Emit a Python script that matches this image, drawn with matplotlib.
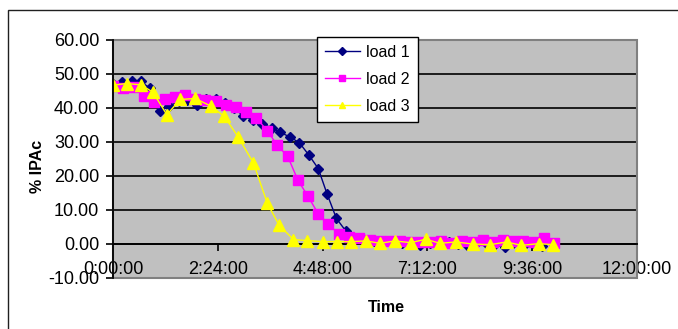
import matplotlib
matplotlib.use("Agg")
import matplotlib.pyplot as plt
from matplotlib.patches import Rectangle
from matplotlib.ticker import FuncFormatter, MultipleLocator

plt.rcParams['font.family'] = ['Liberation Sans', 'DejaVu Sans']

# sample times in minutes from start, % IPAc per load
t_load1 = [0, 13, 26, 38, 51, 64, 77, 90, 102, 115, 128, 141, 154, 166, 179, 192,
           205, 218, 230, 243, 256, 269, 282, 294, 307, 320, 333, 346, 358, 371,
           384, 397, 410, 422, 435, 448, 461, 474, 486, 499, 512, 525, 538, 550,
           563, 576, 589]
load1 = [47.0, 47.5, 47.8, 47.8, 45.8, 39.1, 40.5, 42.0, 42.3, 41.0, 42.6, 42.6,
         41.5, 40.0, 37.7, 36.5, 35.3, 34.2, 32.8, 31.5, 29.8, 26.2, 22.2, 14.8,
         7.5, 3.8, 1.8, 1.2, 0.8, 0.6, 0.5, 0.3, 0.4, -0.4, 0.3, 0.2, 0.5, 0.1,
         -0.3, 0.4, 0.2, 0.0, -0.8, 0.3, -0.5, 0.2, -0.6]

t_load2 = [0, 14, 28, 42, 56, 71, 85, 99, 113, 127, 141, 155, 169, 183, 197, 212,
           226, 240, 254, 268, 282, 296, 310, 324, 338, 353, 367, 381, 395, 409,
           423, 437, 451, 465, 479, 494, 508, 522, 536, 550, 564, 578, 592, 606]
load2 = [46.4, 46.0, 46.3, 43.5, 41.8, 42.7, 43.3, 43.8, 42.7, 42.3, 42.1, 40.8,
         40.4, 38.7, 37.1, 33.3, 29.0, 25.8, 18.8, 14.0, 8.9, 5.8, 3.0, 2.0, 1.7,
         1.3, 1.0, 0.8, 0.9, 0.6, 0.7, 0.5, 0.9, 0.4, 0.8, 0.6, 1.2, 0.7, 1.1,
         1.0, 0.9, 0.5, 1.7, 0.3]

t_load3 = [0, 19, 39, 55, 74, 92, 113, 135, 153, 172, 193, 212, 228, 248, 267,
           288, 308, 327, 348, 367, 387, 409, 430, 449, 471, 494, 518, 541, 561,
           585, 605]
load3 = [46.7, 47.2, 46.8, 44.6, 38.0, 42.5, 42.8, 40.5, 37.5, 31.5, 23.8, 12.0,
         5.6, 1.3, 1.0, 0.7, 0.7, 0.7, 0.9, 0.2, 0.9, 0.4, 1.4, 0.2, 0.6, 0.0,
         -0.2, 0.6, -0.4, 0.1, -0.2]

fig = plt.figure(figsize=(6.78, 3.29), dpi=100)
fig.patch.set_facecolor('white')

# chart area frame
fig.add_artist(Rectangle((8 / 678, -0.2), 1.2, 1.2 - 10 / 329, transform=fig.transFigure,
                         fill=False, edgecolor='#202020', linewidth=1.0))

ax = fig.add_axes([113 / 678, 1 - 278 / 329, 524 / 678, 238 / 329])
ax.set_facecolor('#C0C0C0')

ax.plot(t_load1, load1, color='#000080', marker='D', markersize=5, linewidth=1.0,
        label='load 1', zorder=3)
ax.plot(t_load2, load2, color='#FF00FF', marker='s', markersize=6.5, linewidth=1.0,
        label='load 2', zorder=4)
ax.plot(t_load3, load3, color='#FFFF00', marker='^', markersize=8, linewidth=1.0,
        label='load 3', zorder=5)

ax.set_xlim(0, 720)
ax.set_ylim(-10, 60)
ax.yaxis.set_major_locator(MultipleLocator(10))
ax.yaxis.set_major_formatter(FuncFormatter(lambda v, p: '%.2f' % v))
ax.xaxis.set_major_locator(MultipleLocator(144))
ax.xaxis.set_major_formatter(FuncFormatter(lambda m, p: '%d:%02d:00' % (m // 60, m % 60)))

ax.yaxis.grid(True, color='black', linewidth=1.2, zorder=1)
ax.set_axisbelow(True)

# x axis crosses at zero
ax.spines['bottom'].set_position(('data', 0))
ax.spines['bottom'].set_color('black')
ax.spines['bottom'].set_linewidth(1.3)
ax.spines['left'].set_color('black')
ax.spines['left'].set_linewidth(1.3)
ax.spines['left'].set_zorder(6)
ax.spines['top'].set_visible(False)
ax.spines['right'].set_visible(False)
ax.add_patch(Rectangle((0, 0), 1, 1, transform=ax.transAxes, fill=False,
                       edgecolor='#808080', linewidth=1.5, zorder=2, clip_on=False))

ax.tick_params(axis='y', direction='out', length=5, width=1.2, pad=5,
               labelsize=13, colors='black')
ax.tick_params(axis='x', direction='out', length=5, width=1.2, pad=7,
               labelsize=13, colors='black')

leg = ax.legend(loc='upper left', bbox_to_anchor=(0.389, 1.013), fontsize=11.5,
                frameon=True, fancybox=False, framealpha=1.0, handlelength=2.2,
                handletextpad=0.4, labelspacing=0.75, borderpad=0.5, borderaxespad=0)
leg.get_frame().set_edgecolor('black')
leg.get_frame().set_facecolor('white')
leg.get_frame().set_linewidth(1.0)
leg.set_zorder(10)
for h in leg.legend_handles:
    h.set_markersize(4.5)

fig.text(386 / 678, 1 - 308 / 329, 'Time', fontsize=11.5, fontweight='bold',
         ha='center', va='center')
fig.text(38 / 678, 1 - 166 / 329, '% IPAc', fontsize=11.5, fontweight='bold',
         rotation=90, ha='center', va='center')

fig.savefig('out.png', dpi=100)
